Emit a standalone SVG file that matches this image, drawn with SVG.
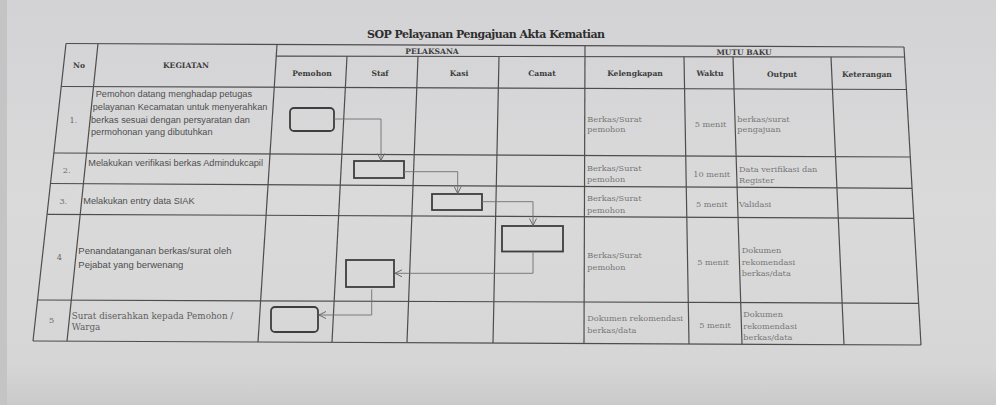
<svg xmlns="http://www.w3.org/2000/svg" width="996" height="405" viewBox="0 0 996 405">
<defs>
<linearGradient id="bg" x1="0" y1="0" x2="0" y2="1">
<stop offset="0" stop-color="#d3d3d5"/>
<stop offset="0.5" stop-color="#dadadb"/>
<stop offset="0.9" stop-color="#d6d6d7"/>
<stop offset="1" stop-color="#cacacb"/>
</linearGradient>
<marker id="arr" viewBox="0 0 8 8" refX="7.5" refY="4" markerWidth="8" markerHeight="8" markerUnits="userSpaceOnUse" orient="auto">
<path d="M0.5,0.5 L7.5,4 L0.5,7.5" fill="none" stroke="#6a6a6a" stroke-width="1"/>
</marker>
<style>
.grid line{stroke:#4d4d4d;stroke-width:1.2}
.title{font-family:"DejaVu Serif","Liberation Serif",serif;font-weight:bold;font-size:11px;fill:#2e2e2e}
.hd{font-family:"DejaVu Serif","Liberation Serif",serif;font-weight:bold;font-size:7.6px;fill:#3c3c3c;text-anchor:middle}
.sans{font-family:"Liberation Sans",Arial,sans-serif;font-size:9.2px;fill:#4e4e4e}
.ser{font-family:"DejaVu Serif","Liberation Serif",serif;font-size:8.2px;fill:#777777}
.ser2{font-family:"DejaVu Serif","Liberation Serif",serif;font-size:8.8px;fill:#5e5e5e}
.num{font-family:"DejaVu Serif","Liberation Serif",serif;font-size:8.2px;fill:#6a6a6a;text-anchor:middle}
.mid{text-anchor:middle}
.box{fill:none;stroke:#3e3e3e;stroke-width:1.8}
.conn path{fill:none;stroke:#707070;stroke-width:0.9;marker-end:url(#arr)}
</style>
</defs>
<rect x="0" y="0" width="996" height="405" fill="url(#bg)"/>
<rect x="0" y="0" width="7" height="405" fill="#c4c4c5"/>

<text class="title" x="367" y="37.5" textLength="238">SOP Pelayanan Pengajuan Akta Kematian</text>

<g id="table" class="grid">
<line x1="66" y1="43.5" x2="904" y2="47"/>
<line x1="276.2" y1="56.2" x2="904.6" y2="57"/>
<line x1="61.2" y1="86.5" x2="906.4" y2="89.5"/>
<line x1="53.9" y1="153" x2="910.3" y2="157"/>
<line x1="50.5" y1="183.5" x2="912.1" y2="188.3"/>
<line x1="47.1" y1="214.3" x2="913.8" y2="218.3"/>
<line x1="37.5" y1="300" x2="918.6" y2="303.3"/>
<line x1="33" y1="341" x2="921" y2="345"/>
<line x1="66" y1="43.5" x2="33" y2="341"/>
<line x1="98" y1="43.6" x2="67" y2="341.2"/>
<line x1="277" y1="44.4" x2="258" y2="342"/>
<line x1="585" y1="45.7" x2="584" y2="343.5"/>
<line x1="904" y1="47" x2="921" y2="345"/>
<line x1="347" y1="56.2" x2="332" y2="342"/>
<line x1="418" y1="56.3" x2="407" y2="342.3"/>
<line x1="499" y1="56.4" x2="493" y2="343"/>
<line x1="684" y1="56.7" x2="689" y2="344"/>
<line x1="733" y1="56.7" x2="742" y2="344"/>
<line x1="831" y1="56.9" x2="844" y2="344.5"/>
</g>

<g id="headers">
<text class="hd" x="432" y="54.3">PELAKSANA</text>
<text class="hd" x="744" y="54.6">MUTU BAKU</text>
<text class="hd" x="79" y="67.5">No</text>
<text class="hd" x="186" y="68">KEGIATAN</text>
<text class="hd" x="312" y="75.8">Pemohon</text>
<text class="hd" x="380" y="76">Staf</text>
<text class="hd" x="459" y="76">Kasi</text>
<text class="hd" x="542" y="76.2">Camat</text>
<text class="hd" x="635" y="76.4">Kelengkapan</text>
<text class="hd" x="710" y="76.4">Waktu</text>
<text class="hd" x="782" y="76.5">Output</text>
<text class="hd" x="867" y="76.6">Keterangan</text>
</g>

<g id="row1">
<text class="num" x="73.3" y="122.5">1.</text>
<text class="sans" x="95.7" y="96.6">Pemohon datang menghadap petugas</text>
<text class="sans" x="92.7" y="110">pelayanan Kecamatan untuk menyerahkan</text>
<text class="sans" x="91" y="122.6">berkas sesuai dengan persyaratan dan</text>
<text class="sans" x="91" y="135">permohonan  yang dibutuhkan</text>
<text class="ser" x="587.3" y="122">Berkas/Surat</text>
<text class="ser" x="587.3" y="132.3">pemohon</text>
<text class="ser mid" x="710.5" y="127.3">5 menit</text>
<text class="ser" x="737.3" y="122">berkas/surat</text>
<text class="ser" x="737.3" y="132.3">pengajuan</text>
</g>
<g id="row2">
<text class="num" x="66.7" y="173">2.</text>
<text class="sans" x="88.3" y="166">Melakukan verifikasi berkas Admindukcapil</text>
<text class="ser" x="587" y="170.7">Berkas/Surat</text>
<text class="ser" x="587" y="182.3">pemohon</text>
<text class="ser mid" x="711.7" y="177">10 menit</text>
<text class="ser" x="739" y="172">Data verifikasi dan</text>
<text class="ser" x="739" y="183">Register</text>
</g>
<g id="row3">
<text class="num" x="63.3" y="203.7">3.</text>
<text class="sans" x="83.3" y="204">Melakukan entry data SIAK</text>
<text class="ser" x="587" y="201.3">Berkas/Surat</text>
<text class="ser" x="587" y="213">pemohon</text>
<text class="ser mid" x="711.7" y="207">5 menit</text>
<text class="ser" x="739" y="207">Validasi</text>
</g>
<g id="row4">
<text class="num" x="59.3" y="260.3">4</text>
<text class="sans" x="78.3" y="254" style="font-size:9.5px">Penandatanganan berkas/surat oleh</text>
<text class="sans" x="78.3" y="268.3" style="font-size:9.5px">Pejabat yang berwenang</text>
<text class="ser" x="587.3" y="258.3">Berkas/Surat</text>
<text class="ser" x="587.3" y="269.7">pemohon</text>
<text class="ser mid" x="713" y="264.7">5 menit</text>
<text class="ser" x="741.7" y="253">Dokumen</text>
<text class="ser" x="741.7" y="264.7">rekomendasi</text>
<text class="ser" x="741.7" y="276.3">berkas/data</text>
</g>
<g id="row5">
<text class="num" x="51.7" y="323">5</text>
<text class="ser2" x="71.7" y="318.7">Surat diserahkan kepada Pemohon /</text>
<text class="ser2" x="71.7" y="329.7">Warga</text>
<text class="ser" x="587.3" y="321.3">Dokumen rekomendasi</text>
<text class="ser" x="587.3" y="333">berkas/data</text>
<text class="ser mid" x="715" y="328">5 menit</text>
<text class="ser" x="743.3" y="317">Dokumen</text>
<text class="ser" x="743.3" y="328.7">rekomendasi</text>
<text class="ser" x="743.3" y="340.3">berkas/data</text>
</g>

<g id="node-pemohon-1"><rect class="box" x="290" y="108" width="44" height="23" rx="4"/></g>
<g id="node-staf-2"><rect class="box" x="354" y="161" width="50" height="17"/></g>
<g id="node-kasi-3"><rect class="box" x="432" y="194" width="50" height="16"/></g>
<g id="node-camat-4"><rect class="box" x="502" y="226" width="61" height="25.5"/></g>
<g id="node-staf-4"><rect class="box" x="346" y="260" width="48" height="27"/></g>
<g id="node-pemohon-5"><rect class="box" x="271" y="307" width="47" height="25" rx="4"/></g>

<g id="connectors" class="conn">
<path d="M334,119 H381 V160.5"/>
<path d="M404,171.7 H457.7 V193.5"/>
<path d="M482,201.7 H533 V225.5"/>
<path d="M533,251.7 V273.3 H395"/>
<path d="M371.7,289.3 V315 H319"/>
</g>
</svg>
